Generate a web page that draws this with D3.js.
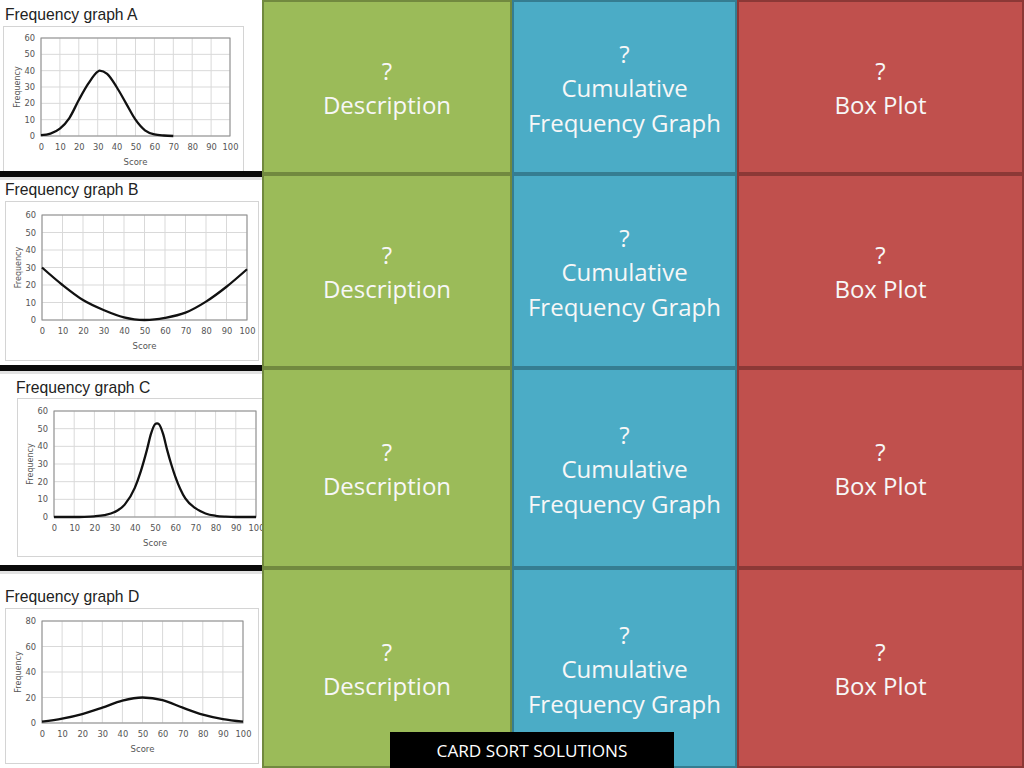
<!DOCTYPE html>
<html>
<head>
<meta charset="utf-8">
<script src="https://cdn.jsdelivr.net/npm/d3@7"></script>
<style>
body { margin: 0; background: #fff; }
svg { display: block; }
</style>
</head>
<body>
<svg id="slide" width="1024" height="768"></svg>
<script>
// ---- data ----
var scoreTicks = [0, 10, 20, 30, 40, 50, 60, 70, 80, 90, 100];
var freqTicks60 = [0, 10, 20, 30, 40, 50, 60];
var freqTicks80 = [0, 20, 40, 60, 80];

var scoresA = [0, 5, 10, 15, 20, 25, 30, 31, 35, 40, 45, 50, 55, 60, 65, 70];
var freqA   = [0.5, 1.5, 4.5, 11, 22, 32, 39.4, 40, 38, 30, 20, 10, 3.5, 1, 0.3, 0];

var scoresB = [0, 10, 20, 30, 40, 45, 50, 55, 60, 70, 80, 90, 100];
var freqB   = [30, 20, 11.4, 5.7, 1.5, 0.4, 0, 0.3, 1.2, 4.2, 10.5, 19, 29];

var scoresC = [0, 10, 15, 20, 25, 30, 35, 40, 43, 46, 48, 50, 51, 52, 54, 56, 58, 60, 65, 70, 75, 80, 85, 90, 100];
var freqC   = [0, 0, 0.1, 0.4, 1.1, 2.8, 7, 16.5, 26, 38, 47, 52.5, 53, 52.5, 47, 38, 30, 23, 10.5, 5, 2, 0.7, 0.2, 0, 0];

var scoresD = [0, 10, 20, 30, 40, 50, 60, 70, 80, 90, 100];
var freqD   = [1, 3.4, 7, 12, 17.5, 20, 18, 12, 6.5, 3, 1];

var graphTitles = ['Frequency graph A', 'Frequency graph B', 'Frequency graph C', 'Frequency graph D'];
var cardLines = [
	['?', 'Description'],
	['?', 'Cumulative', 'Frequency Graph'],
	['?', 'Box Plot']
];
var footerText = 'CARD SORT SOLUTIONS';

// ---- layout ----
var colEdges = [262, 512, 737, 1024];
var rowEdges = [0, 174, 368, 568, 768];
var cardFill = ['#9bbb59', '#4bacc6', '#c0504d'];
var cardStroke = ['#71893f', '#357d91', '#8c3836'];

var graphs = [
	{ title: [5, 20], frame: [3, 26, 243, 172], plot: [41, 38, 230, 136], ticks: freqTicks60, xs: scoresA, ys: freqA },
	{ title: [5, 195], frame: [5, 201, 258, 360], plot: [42, 215, 247, 320], ticks: freqTicks60, xs: scoresB, ys: freqB },
	{ title: [16, 393], frame: [17, 398, 275, 556], plot: [54, 411, 256, 517], ticks: freqTicks60, xs: scoresC, ys: freqC },
	{ title: [5, 602], frame: [5, 608, 258, 763], plot: [42, 621, 243, 723], ticks: freqTicks80, xs: scoresD, ys: freqD }
];

var svg = d3.select('#slide');

svg.append('rect')
	.attr('width', 1024)
	.attr('height', 768)
	.attr('fill', '#fff');

// ---- frequency graphs on the left ----
graphs.forEach(function(g, gi) {
	var grp = svg.append('g');

	grp.append('rect')
		.attr('x', g.frame[0] + 0.5)
		.attr('y', g.frame[1] + 0.5)
		.attr('width', g.frame[2] - g.frame[0])
		.attr('height', g.frame[3] - g.frame[1])
		.attr('fill', '#fff')
		.attr('stroke', '#d4d4d4');

	grp.append('text')
		.text(graphTitles[gi])
		.attr('x', g.title[0])
		.attr('y', g.title[1])
		.style('font-family', '"Liberation Sans", Arial, sans-serif')
		.style('font-size', '15.7px')
		.style('fill', '#222');

	var x = d3.scaleLinear()
		.domain([0, 100])
		.range([g.plot[0], g.plot[2]]);
	var y = d3.scaleLinear()
		.domain([0, d3.max(g.ticks)])
		.range([g.plot[3], g.plot[1]]);

	// grid
	grp.selectAll('.vgrid')
		.data(scoreTicks)
		.enter()
		.append('line')
		.attr('x1', d => x(d))
		.attr('x2', d => x(d))
		.attr('y1', g.plot[1])
		.attr('y2', g.plot[3])
		.attr('stroke', '#d9d9d9');
	grp.selectAll('.hgrid')
		.data(g.ticks)
		.enter()
		.append('line')
		.attr('x1', g.plot[0])
		.attr('x2', g.plot[2])
		.attr('y1', d => y(d))
		.attr('y2', d => y(d))
		.attr('stroke', '#d9d9d9');

	grp.append('rect')
		.attr('x', g.plot[0])
		.attr('y', g.plot[1])
		.attr('width', g.plot[2] - g.plot[0])
		.attr('height', g.plot[3] - g.plot[1])
		.attr('fill', 'none')
		.attr('stroke', '#8c8c8c');

	var xAxis = d3.axisBottom(x)
		.tickValues(scoreTicks)
		.tickSize(0)
		.tickPadding(8);
	var yAxis = d3.axisLeft(y)
		.tickValues(g.ticks)
		.tickSize(0)
		.tickPadding(6);

	var xg = grp.append('g')
		.attr('transform', `translate(0, ${g.plot[3]})`)
		.call(xAxis);
	var yg = grp.append('g')
		.attr('transform', `translate(${g.plot[0]}, 0)`)
		.call(yAxis);
	[xg, yg].forEach(function(a) {
		a.select('.domain').remove();
		a.selectAll('text')
			.style('font-family', '"DejaVu Sans", Verdana, sans-serif')
			.style('font-size', '8.3px')
			.style('fill', '#555');
	});

	grp.append('text')
		.text('Score')
		.attr('x', (g.plot[0] + g.plot[2]) / 2)
		.attr('y', g.plot[3] + 29)
		.style('text-anchor', 'middle')
		.style('font-family', '"DejaVu Sans", Verdana, sans-serif')
		.style('font-size', '8.5px')
		.style('fill', '#555');

	grp.append('text')
		.text('Frequency')
		.attr('transform', `translate(${g.plot[0] - 21}, ${(g.plot[1] + g.plot[3]) / 2}) rotate(-90)`)
		.style('text-anchor', 'middle')
		.style('font-family', '"DejaVu Sans", Verdana, sans-serif')
		.style('font-size', '8px')
		.style('fill', '#555');

	var line = d3.line()
		.x((d, i) => x(g.xs[i]))
		.y(d => y(d))
		.curve(d3.curveMonotoneX);

	grp.append('path')
		.attr('d', line(g.ys))
		.attr('fill', 'none')
		.attr('stroke', '#111')
		.attr('stroke-width', 2.3)
		.attr('stroke-linejoin', 'round');
});

// black separators between the graph images
svg.selectAll('.sep')
	.data(rowEdges.slice(1, 4))
	.enter()
	.append('g')
	.each(function(r) {
		var s = d3.select(this);
		s.append('rect')
			.attr('x', 0).attr('y', r - 3)
			.attr('width', 262).attr('height', 6)
			.attr('fill', '#0a0a0a');
		s.append('rect')
			.attr('x', 0).attr('y', r + 3)
			.attr('width', 262).attr('height', 3)
			.attr('fill', '#e2e2e2');
	});

// ---- cards ----
var rows = d3.range(rowEdges.length - 1);
rows.forEach(function(r) {
	cardLines.forEach(function(lines, c) {
		var x0 = colEdges[c], x1 = colEdges[c + 1];
		var y0 = rowEdges[r], y1 = rowEdges[r + 1];
		svg.append('rect')
			.attr('x', x0 + 1)
			.attr('y', y0 + 1)
			.attr('width', x1 - x0 - 2)
			.attr('height', y1 - y0 - 2)
			.attr('fill', cardFill[c])
			.attr('stroke', cardStroke[c])
			.attr('stroke-width', 2);

		var cx = (x0 + x1) / 2;
		var mid = (y0 + y1) / 2 + 10;
		var lh = 34.5;
		var first = mid - lh * (lines.length - 1) / 2;
		svg.append('text')
			.attr('x', cx)
			.attr('y', first)
			.style('text-anchor', 'middle')
			.style('font-family', '"Open Sans", sans-serif')
			.style('font-size', '24px')
			.style('fill', '#f7f7f7')
			.selectAll('tspan')
			.data(lines)
			.enter()
			.append('tspan')
			.attr('x', cx)
			.attr('dy', (d, i) => i === 0 ? 0 : lh)
			.text(d => d);
	});
});

// footer banner
svg.append('rect')
	.attr('x', 390)
	.attr('y', 732)
	.attr('width', 284)
	.attr('height', 36)
	.attr('fill', '#000');
svg.append('text')
	.text(footerText)
	.attr('x', 532)
	.attr('y', 757)
	.style('text-anchor', 'middle')
	.style('font-family', '"Open Sans", sans-serif')
	.style('font-size', '17.2px')
	.style('fill', '#fff');
</script>
</body>
</html>
